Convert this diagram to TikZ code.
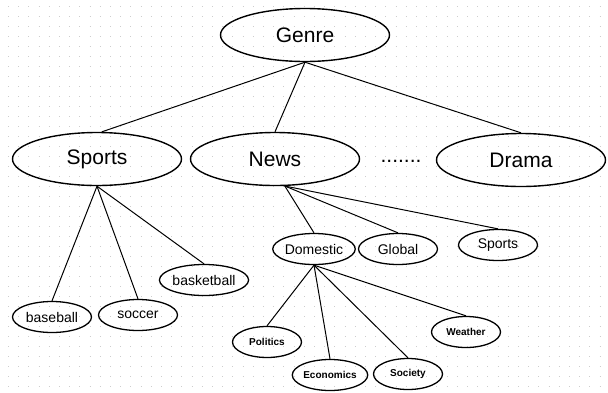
\documentclass[tikz,border=0pt]{standalone}
\usepackage{fontspec}
\setmainfont{Liberation Sans}
\usetikzlibrary{shapes.geometric}

\definecolor{griddot}{HTML}{CDCDCD}
\tikzstyle{topic}=[ellipse, draw, line width=1.4pt, inner sep=0,
    minimum width=169pt, minimum height=53pt, font=\fontsize{21}{24}\selectfont]
\tikzstyle{sub}=[ellipse, draw, line width=1.3pt, inner sep=0,
    minimum width=79pt, minimum height=31pt, font=\fontsize{14}{16}\selectfont]
\tikzstyle{leaf}=[ellipse, draw, line width=1.3pt, inner sep=0,
    minimum width=69pt, minimum height=31pt, font=\fontsize{10}{12}\selectfont\bfseries]
\tikzstyle{branch}=[line width=1pt]

\begin{document}
\begin{tikzpicture}[x=1pt, y=-1pt]

\useasboundingbox (0, 0) rectangle (608, 392);

% faint background grid
\foreach \gy in {6, 16, ..., 386}
    \draw [griddot, line width=0.7pt, dash pattern=on 0.7pt off 9.5pt] (8, \gy) -- (608, \gy);

\node [topic] (genre) at (305, 35) {Genre};
\node [topic] (sports) at (97, 159) {Sports};
\node [topic] (news) at (275, 159) {News};
\node [topic] (drama) at (521, 160) {Drama};
\node [font=\fontsize{21}{24}\selectfont] (more) at (401, 161) {.......};

\node [sub] (baseball) at (52, 317) {baseball};
\node [sub] (soccer) at (138, 315) {soccer};
\node [sub] (basketball) at (204, 280) {basketball};

\node [sub] (domestic) at (314, 249) {Domestic};
\node [sub] (global) at (398, 249) {Global};
\node [sub] (newssports) at (498, 245) {Sports};

\node [leaf] (politics) at (267, 342) {Politics};
\node [leaf, minimum width=67pt] (economics) at (330, 375) {Economics};
\node [leaf] (society) at (408, 374) {Society};
\node [leaf] (weather) at (466, 332) {Weather};

\draw [branch] (genre.south) to (sports.80);
\draw [branch] (genre.south) to (news.north);
\draw [branch] (genre.south) to (drama.north);

\draw [branch] (sports.south) to (baseball.north);
\draw [branch] (sports.south) to (soccer.north);
\draw [branch] (sports.south) to (basketball.north);

\draw [branch] (news.-70) to (domestic.north);
\draw [branch] (news.-70) to (global.north);
\draw [branch] (news.-70) to (newssports.north);

\draw [branch] (domestic.south) to (politics.north);
\draw [branch] (domestic.south) to (economics.north);
\draw [branch] (domestic.south) to (society.north);
\draw [branch] (domestic.south) to (weather.north);

\end{tikzpicture}
\end{document}
